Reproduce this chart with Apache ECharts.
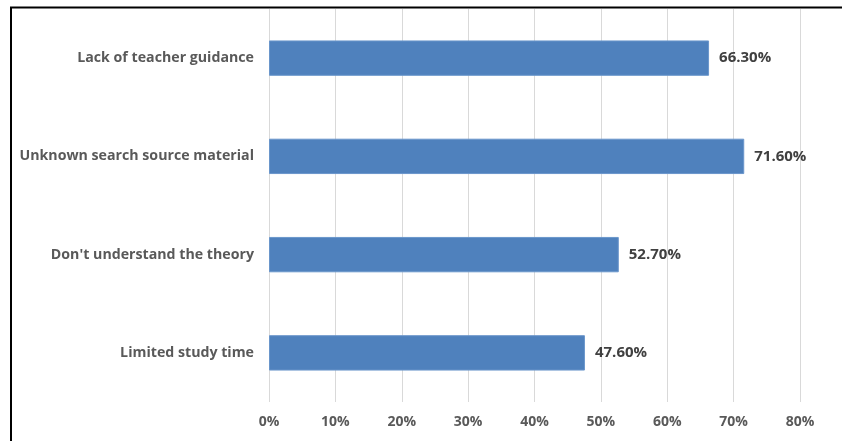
<!DOCTYPE html>
<html>
<head>
<meta charset="utf-8">
<script src="https://cdn.jsdelivr.net/npm/echarts@6/dist/echarts.min.js"></script>
<style>
  html, body { margin: 0; padding: 0; background: #fff; }
  #chart { width: 842px; height: 441px; }
</style>
</head>
<body>
<div id="chart"></div>
<script>
// Survey: difficulties reported by students (share of respondents, %)
const categories = [
  'Limited study time',
  "Don't understand the theory",
  'Unknown search source material',
  'Lack of teacher guidance'
];
const values = [47.6, 52.7, 71.6, 66.3];
const axisMax = 80;
const axisStep = 10;

const chart = echarts.init(document.getElementById('chart'), null, { renderer: 'canvas' });

chart.setOption({
  animation: false,
  backgroundColor: '#ffffff',
  grid: { left: 269, right: 42, top: 9, bottom: 39, containLabel: false },
  xAxis: {
    type: 'value',
    min: 0,
    max: axisMax,
    interval: axisStep,
    axisLine: { show: false },
    axisTick: { show: false },
    splitLine: { show: true, lineStyle: { color: '#d9d9d9', width: 1 } },
    axisLabel: {
      formatter: '{value}%',
      color: '#595959',
      fontFamily: 'Open Sans',
      fontWeight: 'bold',
      fontSize: 14,
      margin: 13
    }
  },
  yAxis: {
    type: 'category',
    data: categories,
    axisLine: { show: false },
    axisTick: { show: false },
    splitLine: { show: false },
    axisLabel: {
      color: '#595959',
      fontFamily: 'Open Sans',
      fontWeight: 'bold',
      fontSize: 14.2,
      margin: 15
    }
  },
  series: [{
    type: 'bar',
    data: values,
    barWidth: '36%',
    itemStyle: { color: '#4f81bd', borderColor: '#6a96cb', borderWidth: 1 },
    label: {
      show: true,
      position: 'right',
      distance: 10,
      formatter: p => p.value.toFixed(2) + '%',
      color: '#404040',
      fontFamily: 'Open Sans',
      fontWeight: 'bold',
      fontSize: 15
    }
  }],
  graphic: [
    { type: 'line', shape: { x1: 10, y1: 7.5, x2: 842, y2: 7.5 }, style: { stroke: '#000', lineWidth: 2 } },
    { type: 'line', shape: { x1: 11, y1: 7, x2: 11, y2: 441 }, style: { stroke: '#000', lineWidth: 2 } }
  ]
});
</script>
</body>
</html>
